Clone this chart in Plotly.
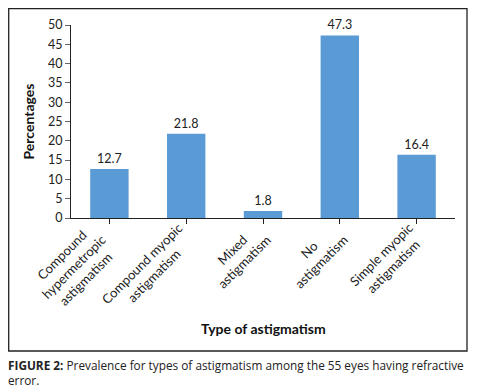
import plotly.graph_objects as go

categories = ["Compound<br>hypermetropic<br>astigmatism", "Compound myopic<br>astigmatism",
              "Mixed<br>astigmatism", "No<br>astigmatism", "Simple myopic<br>astigmatism"]
values = [12.7, 21.8, 1.8, 47.3, 16.4]
value_labels = ["12.7", "21.8", "1.8", "47.3", "16.4"]
y_ticks = [0, 5, 10, 15, 20, 25, 30, 35, 40, 45, 50]

FONT = "Lato, 'Open Sans', sans-serif"
CAP_FONT = "'Open Sans', Lato, sans-serif"
OFF = 8  # page body margin
W, H = 483 - OFF, 392 - OFF
# plot area in reference pixel coords
PX0, PX1, PY0, PY1 = 71, 455, 25, 218
L, R, T, B = PX0 - OFF, W - (PX1 - OFF), PY0 - OFF, H - (PY1 - OFF)
pw, ph = PX1 - PX0, PY1 - PY0

def px(x):
    return (x - PX0) / pw

def py(y):
    return (PY1 - y) / ph

x_idx = list(range(len(categories)))

fig = go.Figure()
fig.add_trace(go.Bar(
    x=x_idx, y=values, width=0.5,
    marker=dict(color="#5B9BD5", line=dict(width=0)),
    text=value_labels, textposition="outside", cliponaxis=False,
    textfont=dict(family=FONT, size=12.5, color="#222"),
))

for i, c in enumerate(categories):
    fig.add_annotation(
        x=i, xref="x", y=py(221), yref="paper", xshift=14, yshift=4,
        text=c, textangle=-45, showarrow=False, align="center",
        xanchor="right", yanchor="top",
        font=dict(family=FONT, size=13, color="#222"),
    )

fig.add_annotation(x=px(28), y=0.5, xref="paper", yref="paper", text="<b>Percentages</b>",
                   textangle=-90, showarrow=False, xanchor="center", yanchor="middle",
                   font=dict(family=FONT, size=14, color="#111"))
fig.add_annotation(x=0.5, y=py(328), xref="paper", yref="paper", text="<b>Type of astigmatism</b>",
                   showarrow=False, xanchor="center", yanchor="middle",
                   font=dict(family=FONT, size=14, color="#111"))
fig.add_annotation(x=px(6), y=py(355), xref="paper", yref="paper",
                   text="<b>FIGURE 2:</b> Prevalence for types of astigmatism among the 55 eyes having refractive<br>error.",
                   showarrow=False, xanchor="left", yanchor="top", align="left",
                   font=dict(family=CAP_FONT, size=11.8, color="#222"))

fig.add_shape(type="rect", xref="paper", yref="paper",
              x0=px(8.7), x1=px(467), y0=py(351), y1=py(8.7),
              line=dict(color="#222", width=1.3), fillcolor="rgba(0,0,0,0)")

fig.update_xaxes(range=[-0.5, 4.5], tickvals=x_idx, showticklabels=False,
                 ticks="outside", ticklen=5, tickcolor="#222", tickson="boundaries",
                 showline=True, linecolor="#222", linewidth=1, showgrid=False, zeroline=False)
fig.update_yaxes(range=[0, 50], tickvals=y_ticks, ticks="outside", ticklen=5, tickcolor="#666",
                 showline=True, linecolor="#222", linewidth=1, showgrid=False, zeroline=False,
                 tickfont=dict(family=FONT, size=12.5, color="#222"), automargin=False)

fig.update_layout(width=W, height=H, margin=dict(l=L, r=R, t=T, b=B, autoexpand=False),
                  plot_bgcolor="white", paper_bgcolor="white", showlegend=False,
                  bargap=0.5)

fig.write_html("out.html")
